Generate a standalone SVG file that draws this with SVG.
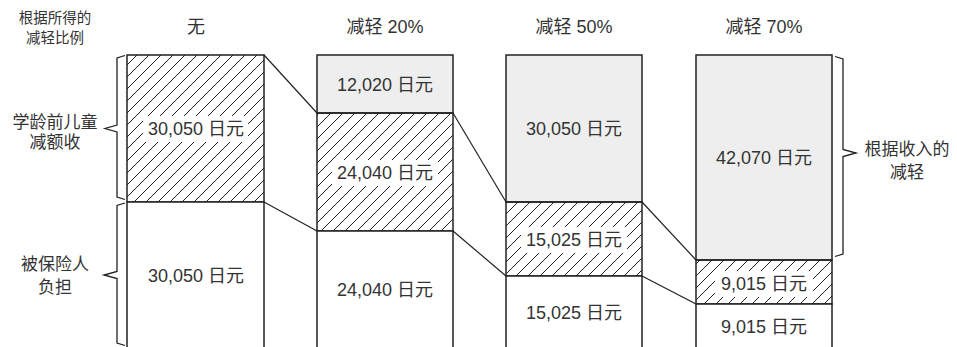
<svg xmlns="http://www.w3.org/2000/svg" width="957" height="347" viewBox="0 0 957 347">
<defs>
<pattern id="hatch" patternUnits="userSpaceOnUse" width="12" height="12">
<path d="M0,12 L12,0 M-3,3 L3,-3 M9,15 L15,9" stroke="#222" stroke-width="1" fill="none"/>
</pattern>
<style>
text{font-family:"Liberation Sans","Noto Sans CJK SC",sans-serif;fill:#333;text-anchor:middle;dominant-baseline:central}
.h{font-size:18px}
.s{font-size:14.5px}
.v{font-size:18px}
.l{font-size:17px}
.box{stroke:#222;stroke-width:1.5}
.gray{fill:#eeeeee}
.white{fill:#ffffff}
.hat{fill:url(#hatch)}
.bg{fill:#ffffff}
.con{stroke:#222;stroke-width:1.2;fill:none}
.brace{stroke:#222;stroke-width:1.3;fill:none;stroke-linejoin:miter}
</style>
</defs>
<rect width="957" height="347" fill="#ffffff"/>

<g id="headers">
<text class="s" x="55" y="18">根据所得的</text>
<text class="s" x="55" y="38">减轻比例</text>
<text class="h" x="196" y="27">无</text>
<text class="h" x="385" y="27">减轻 20%</text>
<text class="h" x="574" y="27">减轻 50%</text>
<text class="h" x="764" y="27">减轻 70%</text>
</g>

<g id="connectors">
<line class="con" x1="264" y1="55" x2="317" y2="113"/>
<line class="con" x1="264" y1="202" x2="317" y2="231"/>
<line class="con" x1="453" y1="113" x2="506" y2="202"/>
<line class="con" x1="453" y1="231" x2="506" y2="276"/>
<line class="con" x1="642" y1="202" x2="696" y2="260"/>
<line class="con" x1="642" y1="276" x2="696" y2="304"/>
</g>

<g id="col1">
<g id="c1-hatch">
<rect class="box hat" x="127" y="55" width="137" height="147"/>
<rect class="bg" x="143" y="116" width="105" height="26"/>
<text class="v" x="196" y="129">30,050 日元</text>
</g>
<g id="c1-white">
<rect class="box white" x="127" y="202" width="137" height="150"/>
<text class="v" x="196" y="276">30,050 日元</text>
</g>
</g>

<g id="col2">
<g id="c2-gray">
<rect class="box gray" x="317" y="55" width="136" height="58"/>
<text class="v" x="385" y="85">12,020 日元</text>
</g>
<g id="c2-hatch">
<rect class="box hat" x="317" y="113" width="136" height="118"/>
<rect class="bg" x="332" y="160" width="106" height="26"/>
<text class="v" x="385" y="173">24,040 日元</text>
</g>
<g id="c2-white">
<rect class="box white" x="317" y="231" width="136" height="121"/>
<text class="v" x="385" y="290">24,040 日元</text>
</g>
</g>

<g id="col3">
<g id="c3-gray">
<rect class="box gray" x="506" y="55" width="136" height="147"/>
<text class="v" x="574" y="129">30,050 日元</text>
</g>
<g id="c3-hatch">
<rect class="box hat" x="506" y="202" width="136" height="74"/>
<rect class="bg" x="521" y="227" width="106" height="26"/>
<text class="v" x="574" y="240">15,025 日元</text>
</g>
<g id="c3-white">
<rect class="box white" x="506" y="276" width="136" height="76"/>
<text class="v" x="574" y="313">15,025 日元</text>
</g>
</g>

<g id="col4">
<g id="c4-gray">
<rect class="box gray" x="696" y="55" width="136" height="205"/>
<text class="v" x="764" y="158">42,070 日元</text>
</g>
<g id="c4-hatch">
<rect class="box hat" x="696" y="260" width="136" height="44"/>
<rect class="bg" x="715" y="271" width="98" height="26"/>
<text class="v" x="764" y="284">9,015 日元</text>
</g>
<g id="c4-white">
<rect class="box white" x="696" y="304" width="136" height="48"/>
<text class="v" x="764" y="327">9,015 日元</text>
</g>
</g>

<g id="brace-child">
<path class="brace" d="M125,55.5 L117,58 L117,125 L105,128.5 L117,132 L117,197 L125,199.5"/>
<text class="l" x="55" y="122">学龄前儿童</text>
<text class="l" x="55" y="142">减额收</text>
</g>

<g id="brace-insured">
<path class="brace" d="M125,203 L117,205.5 L117,271.5 L104,275 L117,278.5 L117,343 L125,345.5"/>
<text class="l" x="55" y="264">被保险人</text>
<text class="l" x="55" y="287">负担</text>
</g>

<g id="brace-income">
<path class="brace" d="M835,56.5 L843,59 L843,149.5 L856,153 L843,156.5 L843,254 L835,256.5"/>
<text class="l" x="907" y="149">根据收入的</text>
<text class="l" x="907" y="172">减轻</text>
</g>
</svg>
